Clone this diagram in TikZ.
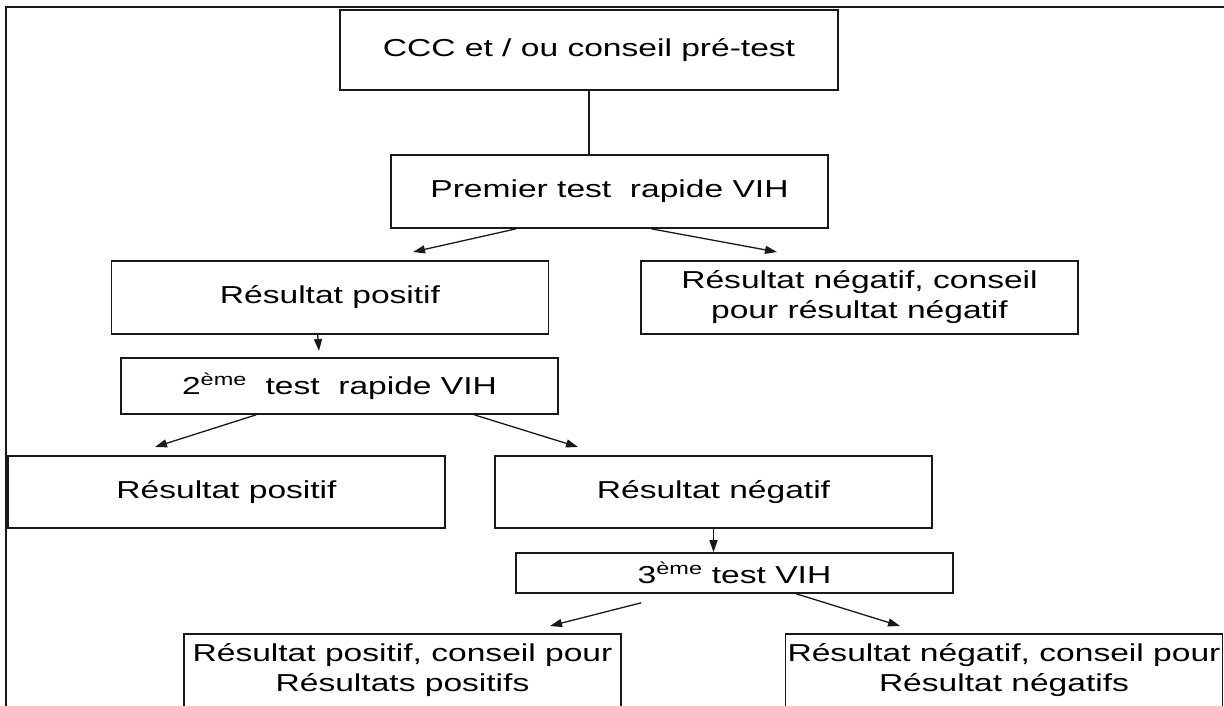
\documentclass[tikz,border=0pt]{standalone}
\usepackage{fontspec}
\setmainfont{Liberation Sans}[FakeStretch=1.37]
\usetikzlibrary{arrows.meta}
\begin{document}
\begin{tikzpicture}[x=1pt,y=-1pt,
  box/.style={draw=black!90, line width=1.6pt, inner sep=0pt, align=center,
    font=\fontsize{24.5}{30}\selectfont, minimum width=437pt, minimum height=73pt},
  arr/.style={draw=black!90, line width=1.3pt, -{Triangle[length=12pt,width=8pt]}},
  link/.style={draw=black!90, line width=1.3pt}]
  \useasboundingbox (0,0) rectangle (1224,706);
  \clip (0,0) rectangle (1224,706);

  % outer frame
  \draw[line width=2.4pt, draw=black!90] (6,7) rectangle (1240,720);

  % boxes
  \node[box, minimum width=498pt, minimum height=80pt] (ccc) at (589,50) {CCC et / ou conseil pré-test};
  \node[box] (t1) at (609.5,191.5) {Premier test~ rapide VIH};
  \node[box] (pos1) at (330,297.5) {Résultat positif};
  \node[box] (neg1) at (859.5,297.5) {Résultat négatif, conseil\\pour résultat négatif};
  \node[box, minimum height=56pt] (t2) at (339.5,386) {2\textsuperscript{ème}~ test~ rapide VIH};
  \node[box, minimum height=72pt] (pos2) at (226.5,492) {Résultat positif};
  \node[box, minimum height=72pt] (neg2) at (713.5,492) {Résultat négatif};
  \node[box, minimum height=40pt] (t3) at (734.5,573) {3\textsuperscript{ème} test VIH};
  \node[box] (pos3) at (402.5,670.5) {Résultat positif, conseil pour\\Résultats positifs};
  \node[box] (neg3) at (1004,670.5) {Résultat négatif, conseil pour\\Résultat négatifs};

  % free arrow tips
  \coordinate (tipPos1) at (413,252);
  \coordinate (tipNeg1) at (777,252);
  \coordinate (tipT2)   at (319,351);
  \coordinate (tipPos2) at (155,447);
  \coordinate (tipNeg2) at (578,447);
  \coordinate (tipPos3) at (550,626);
  \coordinate (tipNeg3) at (900,626);

  % connectors
  \draw[link] (ccc.south) -- (ccc.south |- t1.north);
  \draw[arr] ([xshift=126pt]t1.south west) -- (tipPos1);
  \draw[arr] ([xshift=261pt]t1.south west) -- (tipNeg1);
  \draw[arr] ([xshift=207pt]pos1.south west) -- (tipT2);
  \draw[arr] ([xshift=136pt]t2.south west) -- (tipPos2);
  \draw[arr] ([xshift=354pt]t2.south west) -- (tipNeg2);
  \draw[arr] (neg2.south) -- (neg2.south |- t3.north);
  \draw[arr] ([xshift=126pt,yshift=-9pt]t3.south west) -- (tipPos3);
  \draw[arr] ([xshift=281pt]t3.south west) -- (tipNeg3);
\end{tikzpicture}
\end{document}
